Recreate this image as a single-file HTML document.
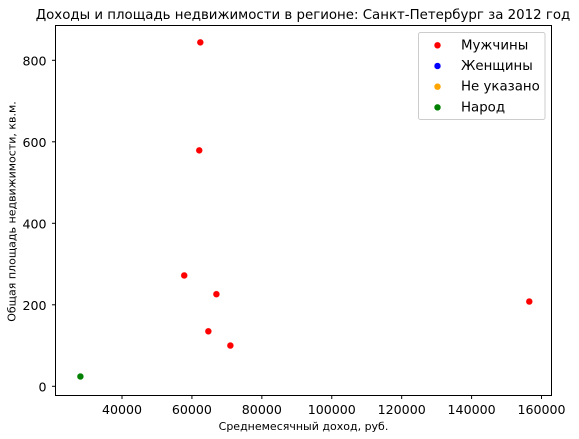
<!DOCTYPE html>
<html>
<head>
<meta charset="utf-8">
<style>
html,body{margin:0;padding:0;background:#fff;}
svg{display:block;}
text{font-family:"DejaVu Sans","Liberation Sans",sans-serif;fill:#000;}
</style>
</head>
<body>
<svg id="chart" xmlns="http://www.w3.org/2000/svg" width="579" height="439" viewBox="0 0 579 439">
<rect x="0" y="0" width="579" height="439" fill="#fff"/>
<text x="303" y="19" font-size="13.35" text-anchor="middle">Доходы и площадь недвижимости в регионе: Санкт-Петербург за 2012 год</text>
<text x="303.5" y="430" font-size="11" text-anchor="middle">Среднемесячный доход, руб.</text>
<text x="0" y="0" font-size="11" text-anchor="middle" transform="translate(15.5,211.5) rotate(-90)">Общая площадь недвижимости, кв.м.</text>
<g id="ticks"></g>
<g id="marks"></g>
<rect x="55.5" y="25.5" width="496" height="370" fill="none" stroke="#000" stroke-width="1"/>
<g id="legend">
<rect x="418.5" y="32.5" width="126.5" height="87" rx="2" fill="#fff" fill-opacity="0.8" stroke="#ccc" stroke-width="1"/>
</g>
</svg>
<script>
const xTicks = [40000, 60000, 80000, 100000, 120000, 140000, 160000];
const yTicks = [0, 200, 400, 600, 800];
const menIncome = [62400, 62100, 57800, 67000, 64700, 71000, 156500];
const menArea = [844, 579, 272, 226, 135, 100, 208];
const peopleIncome = [28100];
const peopleArea = [24];
const legendLabels = ['Мужчины', 'Женщины', 'Не указано', 'Народ'];
const legendColors = ['red', 'blue', 'orange', 'green'];

const NS = 'http://www.w3.org/2000/svg';
function xPos(v) { return 122 + (v - 40000) * 0.003496; }
function yPos(v) { return 386.3 - v * 0.4075; }
function make(tag, attrs, parent) {
  const el = document.createElementNS(NS, tag);
  for (const k in attrs) el.setAttribute(k, attrs[k]);
  parent.appendChild(el);
  return el;
}
const tickGroup = document.getElementById('ticks');
xTicks.forEach(function (t) {
  const x = xPos(t);
  const line = make('line', {x1: x, x2: x, y1: 395.5, y2: 399, stroke: '#000', 'stroke-width': 1}, tickGroup);
  
  
  const label = make('text', {x: x, y: 414, 'font-size': 12.6, 'text-anchor': 'middle'}, tickGroup);
  
  
  label.textContent = String(t);
});
yTicks.forEach(function (t) {
  const y = yPos(t);
  const line = make('line', {x1: 52, x2: 55.5, y1: y, y2: y, stroke: '#000', 'stroke-width': 1}, tickGroup);
  
  
  const label = make('text', {x: 46.5, y: y + 5, 'font-size': 12.6, 'text-anchor': 'end'}, tickGroup);
  
  
  label.textContent = String(t);
});
const markGroup = document.getElementById('marks');
menIncome.forEach(function (v, i) {
  const dot = make('circle', {cx: xPos(v), cy: yPos(menArea[i]), r: 3.4, fill: 'red', stroke: '#fff', 'stroke-width': 0.4}, markGroup);
  
  
});
peopleIncome.forEach(function (v, i) {
  const dot = make('circle', {cx: xPos(v), cy: yPos(peopleArea[i]), r: 3.4, fill: 'green', stroke: '#fff', 'stroke-width': 0.4}, markGroup);
  
  
});
const legendGroup = document.getElementById('legend');
legendLabels.forEach(function (name, i) {
  const y = 45.3 + i * 20.7;
  const swatch = make('circle', {cx: 437.5, cy: y, r: 3.4, fill: legendColors[i], stroke: '#fff', 'stroke-width': 0.4}, legendGroup);
  
  
  const label = make('text', {x: 461, y: y + 4, 'font-size': 13.35}, legendGroup);
  
  
  label.textContent = name;
});
</script>
</body>
</html>
